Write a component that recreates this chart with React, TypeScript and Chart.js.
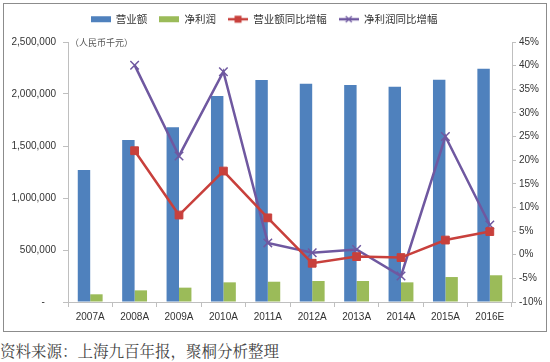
import React, { useEffect, useRef } from 'react';
import { Chart, registerables } from 'chart.js';

Chart.register(...registerables);

const categories = ['2007A', '2008A', '2009A', '2010A', '2011A', '2012A', '2013A', '2014A', '2015A', '2016E'];
const revenue = [1270000, 1558000, 1680000, 1980000, 2135000, 2099000, 2087000, 2070000, 2138000, 2243000];
const netProfit = [74000, 112000, 138000, 189000, 195000, 202000, 202000, 189000, 240000, 257000];
const revenueGrowth = [null, 22.0, 8.4, 17.7, 7.8, -1.8, -0.4, -0.6, 3.1, 4.9];
const profitGrowth = [null, 40.1, 20.9, 38.7, 2.5, 0.4, 1.1, -4.5, 25.0, 6.3];
const seriesNames = ['营业额', '净利润', '营业额同比增幅', '净利润同比增幅'];
const unitLabel = '（人民币千元）';
const sourceLabel = '资料来源：上海九百年报，聚桐分析整理';

const BLUE = '#4F81BD';
const GREEN = '#9BBB59';
const RED = '#C8403C';
const PURPLE = '#6F58A0';
const TICK_FONT = { family: '"Liberation Sans", Arial, sans-serif', size: 10 };

function makeSymbol(kind: string, color: string) {
  const c = document.createElement('canvas');
  c.width = 20;
  c.height = 10;
  const ctx = c.getContext('2d')!;
  if (kind === 'bar') {
    ctx.fillStyle = color;
    ctx.fillRect(0, 2, 20, 6);
  } else {
    ctx.strokeStyle = color;
    ctx.lineWidth = 2.5;
    ctx.beginPath();
    ctx.moveTo(0, 5);
    ctx.lineTo(20, 5);
    ctx.stroke();
    if (kind === 'square') {
      ctx.fillStyle = color;
      ctx.fillRect(6.5, 1.5, 7, 7);
    } else {
      ctx.lineWidth = 1.3;
      ctx.beginPath();
      ctx.moveTo(7, 2);
      ctx.lineTo(13, 8);
      ctx.moveTo(13, 2);
      ctx.lineTo(7, 8);
      ctx.stroke();
    }
  }
  return c;
}

export default function App() {
  const ref = useRef<HTMLCanvasElement>(null);

  useEffect(() => {
    const symbols = [makeSymbol('bar', BLUE), makeSymbol('bar', GREEN), makeSymbol('square', RED), makeSymbol('cross', PURPLE)];
    const layoutPlugin = {
      id: 'layoutTweak',
      beforeInit(chart: any) {
        const lg = chart.legend;
        if (lg) {
          const orig = lg.fit;
          lg.fit = function () {
            orig.call(this);
            this.height = 38;
          };
        }
      },
      afterLayout(chart: any) {
        const lg = chart.legend;
        if (lg) {
          lg.right -= 22;
          lg.top -= 2;
        }
      },
    };

    const chart = new Chart(ref.current!, {
      type: 'bar',
      data: {
        labels: categories,
        datasets: [
          { type: 'bar', label: seriesNames[0], data: revenue, backgroundColor: BLUE, yAxisID: 'y', order: 3, barPercentage: 1, categoryPercentage: 0.56 },
          { type: 'bar', label: seriesNames[1], data: netProfit, backgroundColor: GREEN, yAxisID: 'y', order: 3, barPercentage: 1, categoryPercentage: 0.56 },
          {
            type: 'line', label: seriesNames[2], data: revenueGrowth, yAxisID: 'y1', order: 1,
            borderColor: RED, backgroundColor: RED, borderWidth: 2.5, tension: 0,
            pointStyle: 'rect', pointRadius: 5.5, pointBackgroundColor: RED, pointBorderColor: RED, pointBorderWidth: 1,
          },
          {
            type: 'line', label: seriesNames[3], data: profitGrowth, yAxisID: 'y1', order: 2,
            borderColor: PURPLE, backgroundColor: PURPLE, borderWidth: 2.5, tension: 0,
            pointStyle: 'crossRot', pointRadius: 6, pointBorderColor: PURPLE, pointBorderWidth: 1.5,
          },
        ] as any,
      },
      options: {
        animation: false,
        responsive: false,
        devicePixelRatio: 1,
        layout: { padding: 0 },
        plugins: {
          tooltip: { enabled: false },
          legend: {
            position: 'top',
            labels: {
              usePointStyle: true,
              pointStyleWidth: 20,
              padding: 12,
              color: '#333',
              font: { family: '"Noto Sans CJK SC", sans-serif', size: 10.5 },
              generateLabels: () =>
                seriesNames.map((t, i) => ({
                  text: t,
                  pointStyle: symbols[i],
                  fillStyle: 'rgba(0,0,0,0)',
                  strokeStyle: 'rgba(0,0,0,0)',
                  lineWidth: 0,
                  hidden: false,
                  datasetIndex: i,
                  fontColor: '#333',
                })) as any,
            },
          },
        },
        scales: {
          x: {
            offset: true,
            grid: { display: true, drawOnChartArea: false, offset: true, tickLength: 5, color: '#BFBFBF' },
            border: { color: '#BFBFBF' },
            ticks: { font: TICK_FONT, color: '#333', padding: 4, maxRotation: 0 },
            afterFit(scale: any) { scale.height = 29; },
          },
          y: {
            position: 'left',
            min: 0,
            max: 2500000,
            grid: { drawOnChartArea: false, tickLength: 5, color: '#BFBFBF' },
            border: { color: '#BFBFBF' },
            ticks: {
              stepSize: 500000,
              font: TICK_FONT,
              color: '#333',
              padding: 7,
              callback: (v: any) => (Number(v) === 0 ? '-    ' : Number(v).toLocaleString('en-US')),
            },
            afterFit(scale: any) { scale.width = 64; },
          },
          y1: {
            position: 'right',
            min: -10,
            max: 45,
            grid: { drawOnChartArea: false, tickLength: 4, color: '#BFBFBF' },
            border: { color: '#BFBFBF' },
            ticks: {
              stepSize: 5,
              font: TICK_FONT,
              color: '#333',
              padding: 3,
              callback: (v: any) => `${Math.round(Number(v))}%`,
            },
            afterFit(scale: any) { scale.width = 34; },
          },
        },
      } as any,
      plugins: [layoutPlugin],
    });
    return () => chart.destroy();
  }, []);

  return (
    <div style={{ position: 'absolute', left: 0, top: 0, width: 550, height: 362, background: '#fff', overflow: 'hidden' }}>
      <div style={{ position: 'absolute', left: 3, top: 3, width: 544, height: 329, border: '1px solid #8c8c8c', boxSizing: 'border-box' }}>
        <canvas ref={ref} width={542} height={327} style={{ display: 'block', width: 542, height: 327 }} />
        <span style={{ position: 'absolute', left: 66, top: 33, fontSize: 9, lineHeight: '12px', color: '#555', fontFamily: '"Noto Sans CJK SC", sans-serif', whiteSpace: 'nowrap' }}>{unitLabel}</span>
      </div>
      <div style={{ position: 'absolute', left: 0, top: 341, fontSize: 15.5, lineHeight: '18px', color: '#444', fontFamily: '"Noto Serif CJK SC", "Noto Sans CJK SC", serif', whiteSpace: 'nowrap' }}>{sourceLabel}</div>
    </div>
  );
}
